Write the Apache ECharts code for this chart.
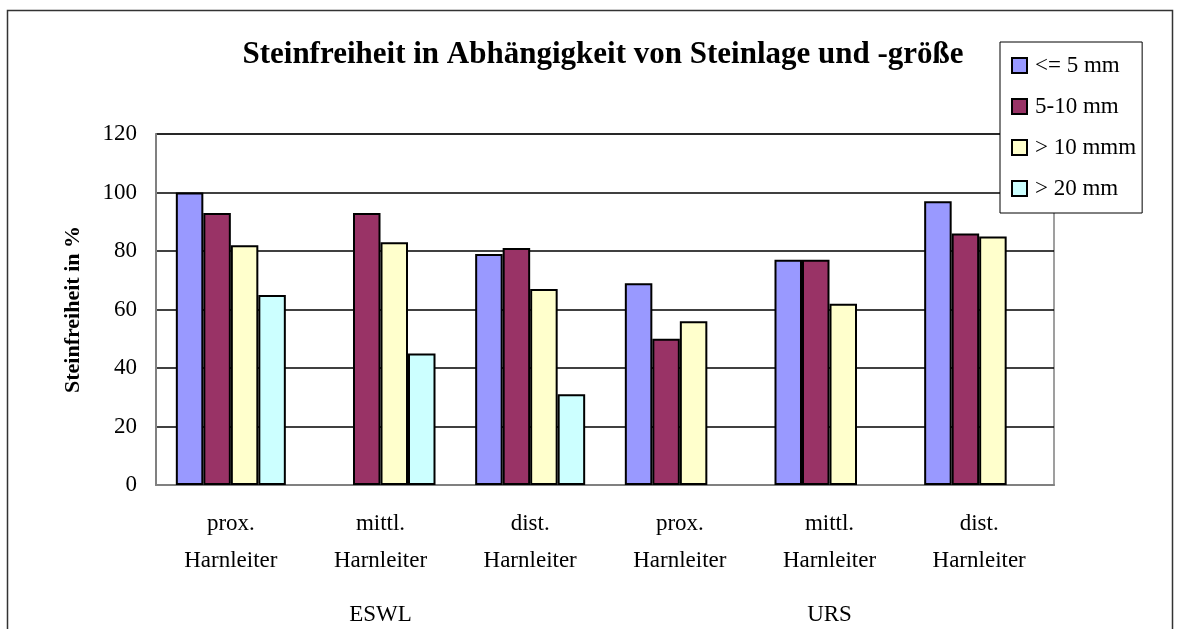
<!DOCTYPE html>
<html><head><meta charset="utf-8">
<script src="https://cdn.jsdelivr.net/npm/echarts@6/dist/echarts.min.js"></script>
<style>html,body{margin:0;padding:0;background:#fff}#c{width:1192px;height:629px}</style>
</head><body><div id="c"></div>
<script>
const categories = ['prox.\nHarnleiter','mittl.\nHarnleiter','dist.\nHarnleiter','prox.\nHarnleiter','mittl.\nHarnleiter','dist.\nHarnleiter'];
const groups = ['ESWL','URS'];
const seriesNames = ['<= 5 mm','5-10 mm','> 10 mmm','> 20 mm'];
const s1 = [100, null, 79, 69, 77, 97];
const s2 = [93, 93, 81, 50, 77, 86];
const s3 = [82, 83, 67, 56, 62, 85];
const s4 = [65, 45, 31, null, null, null];
const yTicks = [0,20,40,60,80,100,120];
const colors = ['#9999FF','#993366','#FFFFCC','#CCFFFF'];
const font = '"Liberation Serif","Times New Roman",serif';
const chart = echarts.init(document.getElementById('c'));
const data = [s1,s2,s3,s4];
chart.setOption({
  animation:false,
  backgroundColor:'#fff',
  title:{text:'Steinfreiheit in Abhängigkeit von Steinlage und -größe',left:598,textAlign:'center',top:34,
    textStyle:{fontFamily:font,fontWeight:'bold',fontSize:31,color:'#000'}},
  legend:{orient:'vertical',left:1000,top:42,padding:[12,6,13,11],itemGap:18,itemWidth:15,itemHeight:15,
    backgroundColor:'#fff',borderColor:'#000',borderWidth:1,icon:'rect',
    textStyle:{fontFamily:font,fontSize:23,color:'#000',lineHeight:20,padding:[0,0,0,3]},
    data:seriesNames},
  grid:{left:156,right:138,top:134,bottom:144,show:true,borderColor:'#808080',borderWidth:1.5,backgroundColor:'#fff'},
  xAxis:[{type:'category',data:categories,
    axisLine:{lineStyle:{color:'#808080',width:2}},axisTick:{show:false},
    axisLabel:{interval:0,margin:20,fontFamily:font,fontSize:23,color:'#000',lineHeight:37}},
   {type:'category',data:groups,position:'bottom',gridIndex:0,
    axisLine:{show:false},axisTick:{show:false},
    axisLabel:{margin:118,fontFamily:font,fontSize:23,color:'#000'}}],
  yAxis:{type:'value',min:yTicks[0],max:yTicks[yTicks.length-1],interval:20,
    name:'Steinfreiheit in %',nameLocation:'middle',nameGap:72,
    nameTextStyle:{fontFamily:font,fontSize:22,fontWeight:'bold',color:'#000'},
    axisLine:{show:true,lineStyle:{color:'#808080',width:2}},axisTick:{show:false},
    axisLabel:{margin:19,fontFamily:font,fontSize:23,color:'#000'},
    splitLine:{lineStyle:{color:'#000',width:1.5}}},
  series:seriesNames.map((n,i)=>({name:n,type:'bar',data:data[i],barGap:'0%',barCategoryGap:'26.5%',
    itemStyle:{color:colors[i],borderColor:'#000',borderWidth:2}})),
  graphic:[{type:'rect',shape:{x:7.5,y:10.5,width:1165,height:700},style:{fill:null,stroke:'#333',lineWidth:1.5},silent:true,z:-1}]
});
</script></body></html>
